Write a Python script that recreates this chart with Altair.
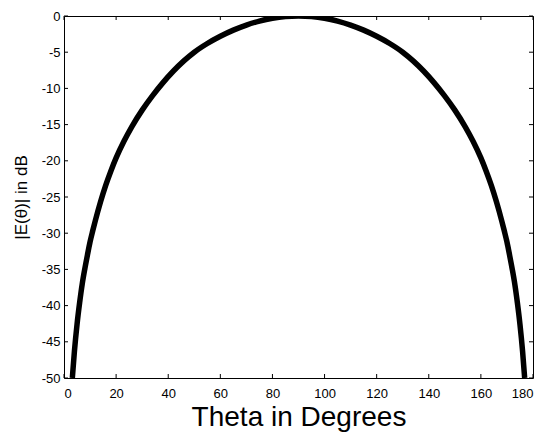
import altair as alt
import pandas as pd

# Values
theta_deg = [3.2, 4.0, 5.0, 6.0, 7.0, 8.0, 9.0, 10.0, 11.0, 12.0, 14.0, 16.0, 18.0,
             20.0, 23.0, 26.0, 30.0, 34.0, 38.0, 42.0, 46.0, 50.0, 55.0, 60.0, 65.0,
             70.0, 75.0, 80.0, 85.0, 90.0,
             95.0, 100.0, 105.0, 110.0, 115.0, 120.0, 125.0, 130.0, 134.0, 138.0,
             142.0, 146.0, 150.0, 154.0, 157.0, 160.0, 162.0, 164.0, 166.0, 168.0,
             169.0, 170.0, 171.0, 172.0, 173.0, 174.0, 175.0, 176.0, 176.8]
e_db = [-50.0, -46.3, -42.6, -39.6, -37.0, -34.9, -33.0, -31.2, -29.7, -28.3, -25.7, -23.4, -21.4,
        -19.6, -17.3, -15.3, -13.0, -11.0, -9.2, -7.6, -6.2, -5.0, -3.8, -2.8, -1.95,
        -1.25, -0.7, -0.3, -0.07, 0.0,
        -0.07, -0.3, -0.7, -1.25, -1.95, -2.8, -3.8, -5.0, -6.2, -7.6,
        -9.2, -11.0, -13.0, -15.3, -17.3, -19.6, -21.4, -23.4, -25.7, -28.3,
        -29.7, -31.2, -33.0, -34.9, -37.0, -39.6, -42.6, -46.3, -50.0]

x_ticks = [0, 20, 40, 60, 80, 100, 120, 140, 160, 180]
y_ticks = [-50, -45, -40, -35, -30, -25, -20, -15, -10, -5, 0]

W, H = 469, 362
FONT = "Liberation Sans"
TL = 4  # inward tick length in px

df = pd.DataFrame({"theta": theta_deg, "db": e_db})
dfx = pd.DataFrame({"theta": x_ticks})
dfy = pd.DataFrame({"db": y_ticks})

xscale = alt.Scale(domain=[0, 180], nice=False, zero=False)
yscale = alt.Scale(domain=[-50, 0], nice=False, zero=False)

xaxis = alt.Axis(values=x_ticks, ticks=False, domain=False, grid=False,
                 labelFont=FONT, labelFontSize=13, labelColor="black",
                 labelPadding=9, labelBaseline="top", labelOverlap=False,
                 title="Theta in Degrees", titleFont=FONT, titleFontSize=28,
                 titleFontWeight="normal", titleColor="black",
                 titleBaseline="alphabetic", titleY=47)
yaxis = alt.Axis(values=y_ticks, ticks=False, domain=False, grid=False,
                 labelFont=FONT, labelFontSize=13, labelColor="black",
                 labelPadding=4, labelOverlap=False,
                 labelExpr="'' + datum.value",
                 title="|E(θ)| in dB", titleFont=FONT, titleFontSize=17,
                 titleFontWeight="normal", titleColor="black",
                 titleBaseline="alphabetic", titleAngle=270,
                 titleX=-38, titleY=H / 2, titleAlign="center")

X = alt.X("theta:Q", scale=xscale, axis=xaxis)
Y = alt.Y("db:Q", scale=yscale, axis=yaxis)

line = alt.Chart(df).mark_line(color="black", strokeWidth=5.5, clip=True,
                               interpolate="monotone").encode(x=X, y=Y)

bottom_ticks = alt.Chart(dfx).mark_rule(color="black", strokeWidth=1).encode(
    x=X, y=alt.value(H), y2=alt.value(H - TL))
top_ticks = alt.Chart(dfx).mark_rule(color="black", strokeWidth=1).encode(
    x=X, y=alt.value(0), y2=alt.value(TL))
left_ticks = alt.Chart(dfy).mark_rule(color="black", strokeWidth=1).encode(
    y=Y, x=alt.value(0), x2=alt.value(TL))
right_ticks = alt.Chart(dfy).mark_rule(color="black", strokeWidth=1).encode(
    y=Y, x=alt.value(W), x2=alt.value(W - TL))

chart = alt.layer(line, bottom_ticks, top_ticks, left_ticks, right_ticks).properties(
    width=W, height=H,
    autosize=alt.AutoSizeParams(type="none"),
    padding={"left": 64, "top": 16, "right": 10, "bottom": 58},
    background="white",
).configure_view(stroke="black", strokeWidth=1)

chart.save("out.html", embed_options={"renderer": "svg", "actions": False})
